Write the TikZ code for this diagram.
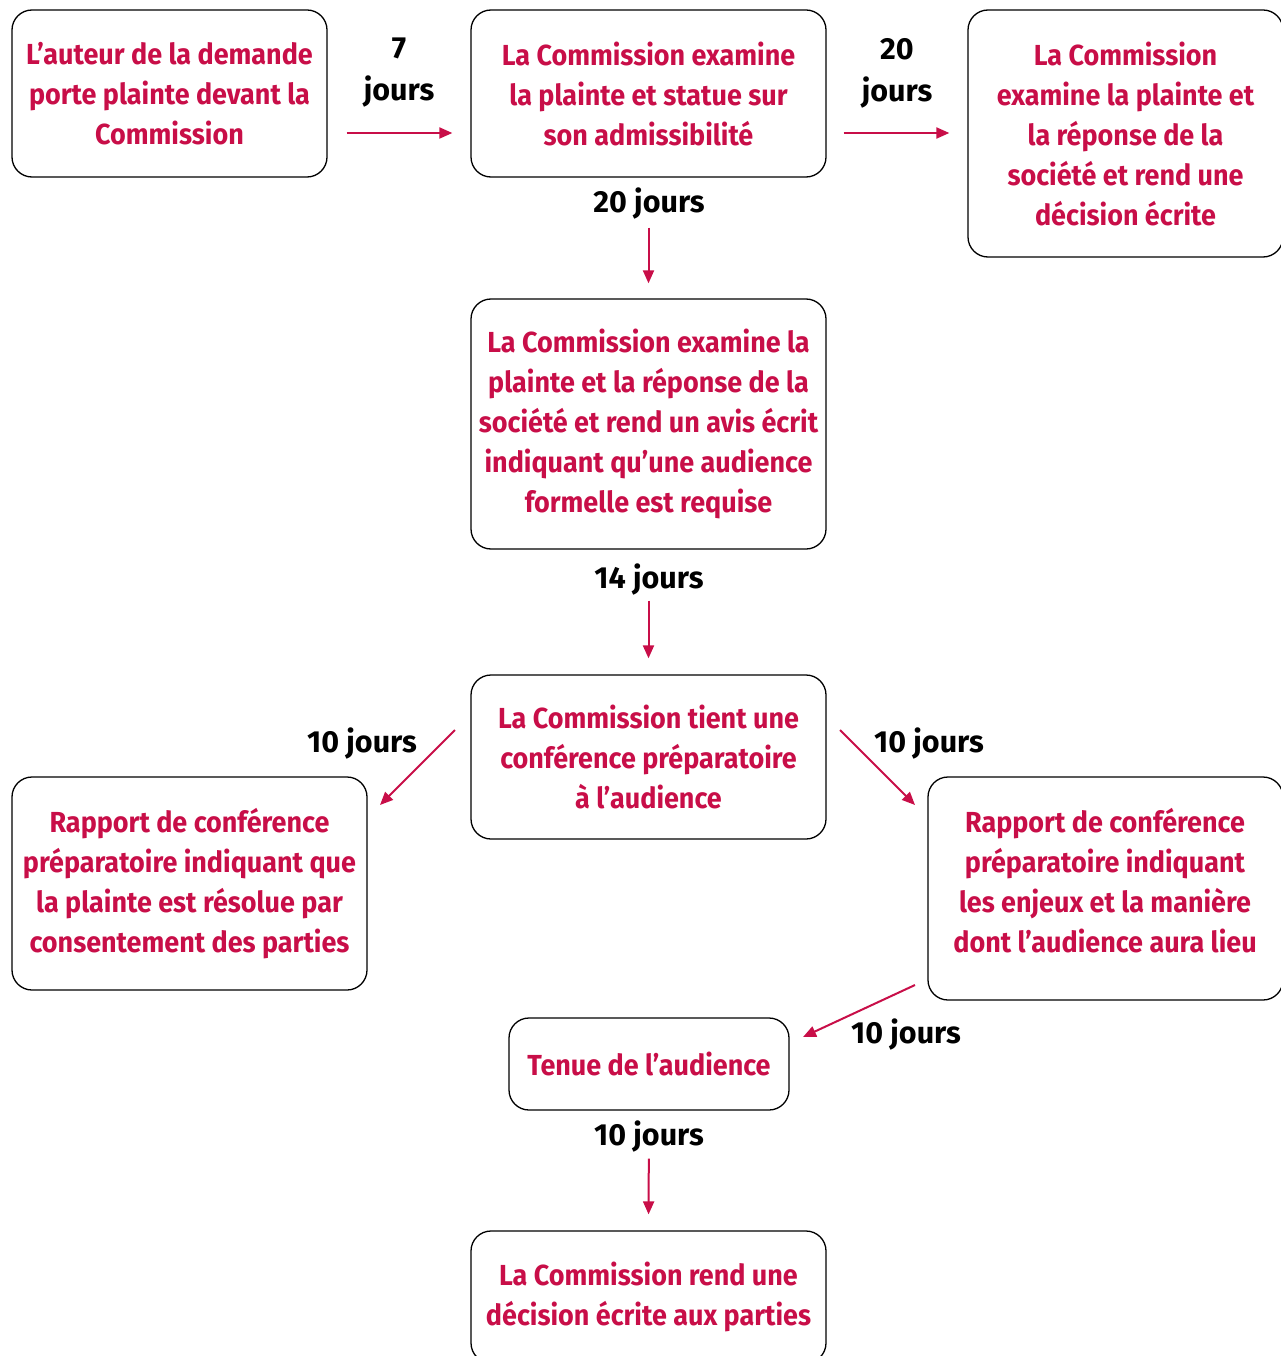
\documentclass[tikz,border=0pt]{standalone}
\usepackage{fontspec}
\setmainfont{Fira Sans}[FakeStretch=0.93]
\newfontfamily\labfont{Fira Sans}
\usetikzlibrary{arrows.meta}
\definecolor{crim}{RGB}{200,14,72}
\begin{document}
\begin{tikzpicture}[x=1pt,y=-1pt,
  box/.style={draw=black, line width=1.3pt, rounded corners=20pt, align=center,
    text=crim, font=\fontsize{29}{40}\selectfont\bfseries, inner sep=0pt},
  lab/.style={text=black, font=\labfont\fontsize{30.5}{42}\selectfont\bfseries, align=center, inner sep=0pt},
  arr/.style={draw=crim, line width=2pt, -{Triangle[length=13pt,width=11pt]}}]
\useasboundingbox (0,0) rectangle (1281,1356);
\clip (0,0) rectangle (1281,1356);
\node[box, minimum width=315pt, minimum height=167pt] (b1) at (169.5,93.5)
  {L’auteur de la demande\\porte plainte devant la\\Commission};
\node[box, minimum width=355pt, minimum height=167pt] (b2) at (648.5,93.5)
  {La Commission examine\\la plainte et statue sur\\son admissibilité};
\node[box, minimum width=315pt, minimum height=247pt] (b3) at (1125.5,133.5)
  {La Commission\\examine la plainte et\\la réponse de la\\société et rend une\\décision écrite};
\node[box, minimum width=355pt, minimum height=250pt] (b4) at (648.5,424)
  {La Commission examine la\\plainte et la réponse de la\\société et rend un avis écrit\\indiquant qu’une audience\\formelle est requise};
\node[box, minimum width=355pt, minimum height=164pt] (b5) at (648.5,757)
  {La Commission tient une\\conférence préparatoire\\à l’audience};
\node[box, minimum width=355pt, minimum height=213pt] (b6) at (189.5,883.5)
  {Rapport de conférence\\préparatoire indiquant que\\la plainte est résolue par\\consentement des parties};
\node[box, minimum width=355pt, minimum height=223pt] (b7) at (1105.5,888.5) {};
\node[text=crim, font=\fontsize{29}{40}\selectfont\bfseries, align=center, inner sep=0pt] (t7) at (1105,881)
  {Rapport de conférence\\préparatoire indiquant\\les enjeux et la manière\\dont l’audience aura lieu};
\node[box, minimum width=280pt, minimum height=92pt] (b8) at (649,1064)
  {Tenue de l’audience};
\node[box, minimum width=355pt, minimum height=132pt] (b9) at (648.5,1297)
  {La Commission rend une\\décision écrite aux parties};
% labels
\node[lab] (l1) at (399,73) {7\\jours};
\node[lab] (l2) at (897,73) {20\\jours};
\node[lab] (l3) at (649,204) {20 jours};
\node[lab] (l4) at (649,579) {14 jours};
\node[lab] (l5) at (362,743) {10 jours};
\node[lab] (l6) at (929,743) {10 jours};
\node[lab] (l7) at (906,1034) {10 jours};
\node[lab] (l8) at (649,1136) {10 jours};
% arrows
\draw[arr, shorten <=19pt, shorten >=18pt] (b1.east |- 0,133) -- (b2.west |- 0,133);
\draw[arr, shorten <=17pt, shorten >=18pt] (b2.east |- 0,133) -- (b3.west |- 0,133);
\draw[arr, shorten <=50pt, shorten >=15pt] (b2.south) -- (b4.north);
\draw[arr, shorten <=51pt, shorten >=16pt] (b4.south) -- (b5.north);
\coordinate (s5) at (455,730); \coordinate (e6) at (380,805);
\coordinate (s5r) at (840,730); \coordinate (e7) at (915,805);
\coordinate (s7) at (915,985); \coordinate (e8) at (803,1037);
\draw[arr] (s5) -- (e6);
\draw[arr] (s5r) -- (e7);
\draw[arr] (s7) -- (e8);
\draw[arr, shorten <=48pt, shorten >=16pt] (b8.south) -- (b9.north);
\end{tikzpicture}
\end{document}
